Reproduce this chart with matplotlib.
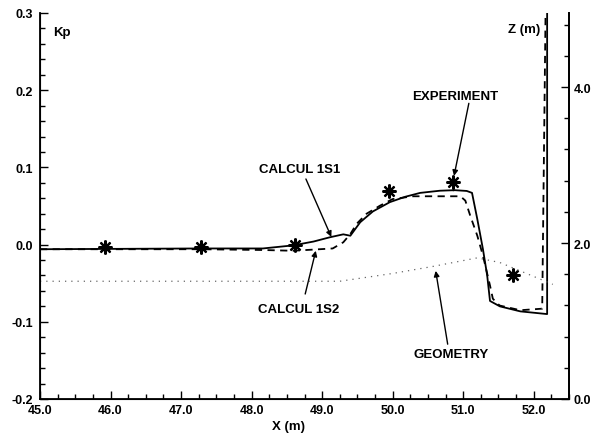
import numpy as np
import matplotlib
matplotlib.use('Agg')
import matplotlib.pyplot as plt
from matplotlib.ticker import MultipleLocator, FormatStrFormatter

plt.rcParams['font.family'] = ['Liberation Sans', 'DejaVu Sans']
plt.rcParams['font.weight'] = 'bold'
plt.rcParams['axes.unicode_minus'] = False

############################
# CALCUL 1S1 (solid)
x_1s1 = [45.0, 47.27, 48.16, 48.59, 48.88, 49.11, 49.30, 49.40, 49.54, 49.72,
         49.96, 50.18, 50.39, 50.67, 50.88, 51.05, 51.125, 51.20, 51.28, 51.34,
         51.38, 51.52, 51.81, 52.19, 52.19]
kp_1s1 = [-0.006, -0.005, -0.005, -0.001, 0.004, 0.0095, 0.0133, 0.0115, 0.029, 0.043,
          0.055, 0.062, 0.067, 0.0698, 0.0705, 0.0695, 0.067, 0.033, -0.006, -0.040,
          -0.073, -0.080, -0.0865, -0.090, 0.32]
# CALCUL 1S2 (dashed)
x_1s2 = [45.0, 47.27, 48.16, 48.59, 49.15, 49.30, 49.40, 49.49, 49.63, 49.82,
         50.0, 50.29, 50.96, 51.03, 51.10, 51.20, 51.28, 51.38, 51.42, 51.48,
         51.52, 51.81, 52.12, 52.17]
kp_1s2 = [-0.006, -0.006, -0.007, -0.008, -0.005, 0.003, 0.0137, 0.027, 0.040, 0.0504,
          0.059, 0.0626, 0.0626, 0.057, 0.0374, 0.0115, -0.0144, -0.053, -0.070, -0.076,
          -0.079, -0.085, -0.083, 0.32]
# EXPERIMENT
x_exp = [45.92, 47.28, 48.62, 49.95, 50.86, 51.70]
kp_exp = [-0.003, -0.003, -0.0005, 0.069, 0.0815, -0.039]
# GEOMETRY (right axis, Z in m)
x_geo = [45.0, 49.25, 50.0, 50.57, 51.2, 51.52, 51.95, 52.27]
z_geo = [1.51, 1.51, 1.61, 1.70, 1.81, 1.75, 1.59, 1.47]
############################

f = plt.figure(figsize=(6, 4.35), dpi=100)
ax = f.add_axes([40/600, 35/435, 529/600, 386/435])

ax.plot(x_1s1, kp_1s1, color='k', lw=1.3)
ax.plot(x_1s2, kp_1s2, color='k', lw=1.3, linestyle=(0, (4, 3)))
ax.plot(x_exp, kp_exp, linestyle='none', marker=(8, 2, 0), ms=10, mew=1.6, color='k')
# little stem under the 5th point
ax.plot([x_exp[4], x_exp[4]], [kp_exp[4], np.interp(x_exp[4], x_1s1[:-1], kp_1s1[:-1])],
        color='k', lw=1)

ax.set_xlim(45, 52.5)
ax.set_ylim(-0.2, 0.3)
ax.xaxis.set_major_locator(MultipleLocator(1))
ax.xaxis.set_minor_locator(MultipleLocator(0.25))
ax.yaxis.set_major_locator(MultipleLocator(0.1))
ax.yaxis.set_minor_locator(MultipleLocator(0.02))
ax.xaxis.set_major_formatter(FormatStrFormatter('%.1f'))
ax.yaxis.set_major_formatter(FormatStrFormatter('%.1f'))
ax.tick_params(which='both', direction='in', top=False, right=False, width=1, labelsize=9)
ax.tick_params(which='major', length=6)
ax.tick_params(which='minor', length=3.5)
ax.tick_params(axis='y', pad=5)
ax.spines['top'].set_visible(False)
for s in ['left', 'bottom', 'right']:
    ax.spines[s].set_linewidth(1.3)

ax2 = ax.twinx()
ax2.plot(x_geo, z_geo, color='0.4', lw=0.9, linestyle=(0, (1, 4)))
ax2.set_ylim(0, 4.95)
ax2.yaxis.set_major_locator(MultipleLocator(2))
ax2.yaxis.set_minor_locator(MultipleLocator(0.4))
ax2.yaxis.set_major_formatter(FormatStrFormatter('%.1f'))
ax2.tick_params(which='both', direction='in', width=1, labelsize=9)
ax2.tick_params(which='major', length=6)
ax2.tick_params(which='minor', length=3.5)
ax2.spines['top'].set_visible(False)
ax2.spines['right'].set_linewidth(1.3)

ax.set_xlabel('X (m)', fontsize=9.5, fontweight='bold')
ax.xaxis.set_label_coords(0.47, -0.055)
ax.text(0.042, 0.951, 'Kp', transform=ax.transAxes, fontsize=9.5, ha='center', va='center')
ax.text(0.915, 0.959, 'Z (m)', transform=ax.transAxes, fontsize=9.5, ha='center', va='center')

# labels with arrows
lab_kw = dict(fontsize=9.5, ha='center', va='center')
arr_kw = dict(arrowstyle='-|>', color='k', lw=1, mutation_scale=8, shrinkA=0, shrinkB=0)
ax.text(48.68, 0.098, 'CALCUL 1S1', **lab_kw)
ax.annotate('', xy=(49.13, 0.010), xytext=(48.77, 0.085), arrowprops=arr_kw)
ax.text(48.67, -0.083, 'CALCUL 1S2', **lab_kw)
ax.annotate('', xy=(48.91, -0.008), xytext=(48.76, -0.064), arrowprops=arr_kw)
ax.text(50.83, -0.142, 'GEOMETRY', **lab_kw)
ax.annotate('', xy=(50.61, -0.034), xytext=(50.78, -0.129), arrowprops=arr_kw)
ax.text(50.88, 0.1925, 'EXPERIMENT', **lab_kw)
ax.annotate('', xy=(50.87, 0.089), xytext=(51.08, 0.183), arrowprops=arr_kw)

f.savefig('out.png', dpi=100)
